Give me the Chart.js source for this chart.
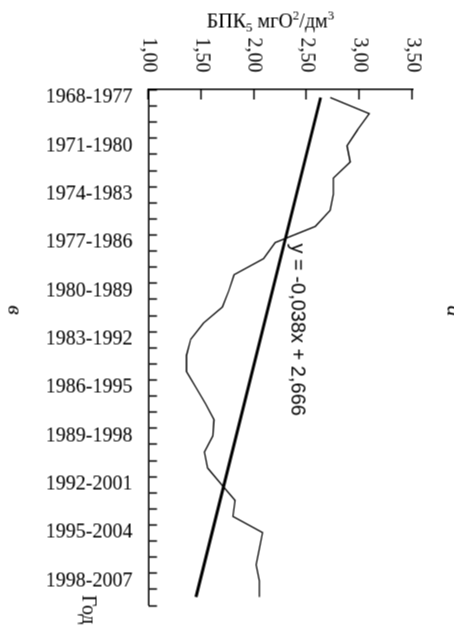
<!DOCTYPE html>
<html>
<head>
<meta charset="utf-8">
<script src="https://cdn.jsdelivr.net/npm/chart.js@4.4.0/dist/chart.umd.min.js"></script>
<style>
  html, body { margin: 0; padding: 0; background: #fff; overflow: hidden; }
  body { width: 454px; height: 637px; position: relative; }
  /* chart is drawn upright and then turned a quarter clockwise, like the source figure */
  #wrap { position: absolute; left: -91.5px; top: 91.5px; width: 637px; height: 454px; transform: rotate(90deg); }
</style>
</head>
<body>
<div id="wrap"><canvas id="bpkChart"></canvas></div>
<script>
var periods = ['1968-1977','1969-1978','1970-1979','1971-1980','1972-1981','1973-1982','1974-1983','1975-1984',
    '1976-1985','1977-1986','1978-1987','1979-1988','1980-1989','1981-1990','1982-1991','1983-1992',
    '1984-1993','1985-1994','1986-1995','1987-1996','1988-1997','1989-1998','1990-1999','1991-2000',
    '1992-2001','1993-2002','1994-2003','1995-2004','1996-2005','1997-2006','1998-2007','1999-2008'];
var bpk = [2.72, 3.09, 2.98, 2.88, 2.91, 2.75, 2.75, 2.72, 2.58, 2.20, 2.09, 1.81, 1.76, 1.70, 1.52, 1.40,
    1.36, 1.36, 1.45, 1.54, 1.62, 1.61, 1.53, 1.56, 1.69, 1.82, 1.80, 2.08, 2.05, 2.02, 2.05, 2.05];
var trendEnds = [2.63, 1.45];
var valueTicks = [1.00, 1.50, 2.00, 2.50, 3.00, 3.50];
var equation = 'y = -0,038x + 2,666';

var trend = periods.map(function (p, i) {
    if (i == 0) return trendEnds[0];
    if (i == periods.length - 1) return trendEnds[1];
    return null;
});

var serif = "'Liberation Serif', 'Times New Roman', serif";

var extras = {
    id: 'extras',
    afterDraw: function (chart) {
        var ctx = chart.ctx;
        var xs = chart.scales.x;
        var ys = chart.scales.y;
        var area = chart.chartArea;
        ctx.save();
        ctx.strokeStyle = '#000';
        ctx.lineWidth = 1.5;
        // inward tick marks on the period axis, between categories
        var slot = xs.getPixelForValue(1) - xs.getPixelForValue(0);
        ctx.beginPath();
        for (var i = 0; i <= periods.length; i++) {
            var px = Math.round(xs.getPixelForValue(i) - slot / 2) + 0.5;
            ctx.moveTo(px, area.bottom);
            ctx.lineTo(px, area.bottom - 8.5);
        }
        // inward tick marks on the value axis
        valueTicks.forEach(function (v) {
            var py = Math.round(ys.getPixelForValue(v)) + 0.5;
            ctx.moveTo(area.left, py);
            ctx.lineTo(area.left + 10, py);
        });
        ctx.stroke();

        ctx.fillStyle = '#000';
        // value axis title with sub/superscripts
        var parts = [['БПК', 20, 0], ['5', 13, 4], [' мгО', 20, 0], ['2', 13, -8], ['/дм', 20, 0], ['3', 13, -8]];
        var total = 0;
        parts.forEach(function (p) { ctx.font = p[1] + 'px ' + serif; total += ctx.measureText(p[0]).width; });
        ctx.translate(26.5, (area.top + area.bottom) / 2 + 10);
        ctx.rotate(-Math.PI / 2);
        ctx.textBaseline = 'alphabetic';
        ctx.textAlign = 'left';
        var cx = -total / 2;
        parts.forEach(function (p) {
            ctx.font = p[1] + 'px ' + serif;
            ctx.fillText(p[0], cx, p[2]);
            cx += ctx.measureText(p[0]).width;
        });
        ctx.setTransform(1, 0, 0, 1, 0, 0);

        // period axis title
        ctx.font = '20px ' + serif;
        ctx.textAlign = 'left';
        ctx.fillText('Год', area.right - 10, area.bottom + 66);

        // trend equation
        ctx.font = "20px 'Liberation Sans', Arial, sans-serif";
        ctx.fillText(equation, xs.getPixelForValue(9) + 1, ys.getPixelForValue(2.35));

        // panel letters
        ctx.font = 'italic 22px ' + serif;
        ctx.textAlign = 'center';
        ctx.fillText('а', xs.getPixelForValue(13) + 4, 7);
        ctx.fillText('в', xs.getPixelForValue(13) + 3, 446);
        ctx.restore();
    }
};

var ctx = document.getElementById('bpkChart').getContext('2d');
var bpkChart = new Chart(ctx, {
    type: 'line',
    data: {
        labels: periods,
        datasets: [{
            data: bpk,
            borderColor: '#000',
            borderWidth: 1.3,
            pointRadius: 0,
            tension: 0,
            fill: false
        }, {
            data: trend,
            borderColor: '#000',
            borderWidth: 3,
            pointRadius: 0,
            spanGaps: true,
            fill: false
        }]
    },
    options: {
        responsive: true,
        maintainAspectRatio: false,
        animation: false,
        layout: { padding: { top: 42, right: 31, left: 0, bottom: 0 } },
        plugins: { legend: { display: false }, tooltip: { enabled: false } },
        scales: {
            x: {
                type: 'category',
                offset: true,
                grid: { display: false, drawTicks: false },
                border: { display: true, color: '#000', width: 1.5 },
                ticks: {
                    autoSkip: false,
                    minRotation: 90,
                    maxRotation: 90,
                    padding: 16,
                    color: '#000',
                    font: { family: serif, size: 20 },
                    callback: function (val, index) {
                        return index % 3 == 0 ? periods[index] : '';
                    }
                },
                afterFit: function (s) { s.height = 148; }
            },
            y: {
                type: 'linear',
                min: valueTicks[0],
                max: valueTicks[valueTicks.length - 1],
                grid: { display: false, drawTicks: false },
                border: { display: true, color: '#000', width: 1.5 },
                ticks: {
                    stepSize: 0.5,
                    padding: 17,
                    color: '#000',
                    font: { family: serif, size: 20 },
                    callback: function (v) { return v.toFixed(2).replace('.', ','); }
                },
                afterFit: function (s) { s.width = 89; }
            }
        }
    },
    plugins: [extras]
});
</script>
</body>
</html>
